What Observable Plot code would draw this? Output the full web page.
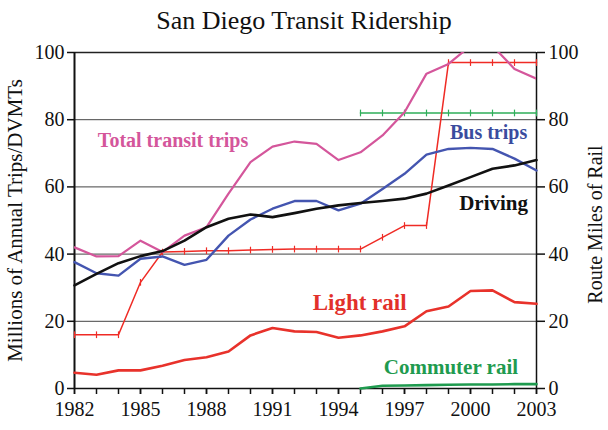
<!DOCTYPE html>
<html>
<head>
<meta charset="utf-8">
<script src="https://cdn.jsdelivr.net/npm/d3@7"></script>
<script src="https://cdn.jsdelivr.net/npm/@observablehq/plot@0.6"></script>
<style>
  body { margin: 0; background: white; }
  #title { width: 608px; height: 40px; line-height: 42px; text-align: center;
           font-family: "Liberation Serif", serif; font-size: 26px; color: #111; }
</style>
</head>
<body>
<div id="title">San Diego Transit Ridership</div>
<div id="chart"></div>
<script>
const years = [1982,1983,1984,1985,1986,1987,1988,1989,1990,1991,1992,1993,1994,1995,1996,1997,1998,1999,2000,2001,2002,2003];
const totalTrips = [42,39.3,39.4,44,40.6,45.5,48,58,67.4,72,73.5,72.8,68,70.3,75.3,82.2,93.7,96.6,102,102,95.1,92.2];
const busTrips = [37.6,34.3,33.6,38.6,39.3,36.8,38.3,45.5,50.3,53.5,55.8,55.8,53,55,59.4,63.9,69.6,71.3,71.6,71.3,68.4,64.9];
const driving = [30.7,34.1,37.3,39.4,40.9,44,48,50.5,51.8,51,52.2,53.5,54.5,55.2,55.8,56.5,58,60.4,62.9,65.4,66.4,68];
const lightRail = [4.7,4.1,5.4,5.4,6.8,8.5,9.3,11,15.8,18,17,16.8,15.1,15.8,17,18.5,23,24.4,29,29.2,25.7,25.2];
const lightRailMiles = [16,16,16,31.6,40.6,40.8,41,41,41.2,41.4,41.5,41.5,41.5,41.5,45,48.5,48.5,97,97,97,97,97];
const commuterYears = [1995,1996,1997,1998,1999,2000,2001,2002,2003];
const commuterRail = [0,0.8,0.9,1.0,1.1,1.2,1.2,1.3,1.3];
const commuterMiles = [82,82,82,82,82,82,82,82,82];
const yTicks = [0,20,40,60,80,100];
const xLabelYears = [1982,1985,1988,1991,1994,1997,2000,2003];
const seriesLabels = ["Total transit trips","Bus trips","Driving","Light rail","Commuter rail"];
const labelYears = [1986.48,2000.82,2001.05,1994.96,1999.11];
const labelValues = [73.8,76.3,55.1,25.7,6.3];

const zip = (xs, vs) => xs.map((x, i) => ({year: x, v: vs[i]}));
const dTotal = zip(years, totalTrips);
const dBus = zip(years, busTrips);
const dDrive = zip(years, driving);
const dLR = zip(years, lightRail);
const dLRM = zip(years, lightRailMiles);
const dCR = zip(commuterYears, commuterRail);
const dCRM = zip(commuterYears, commuterMiles);

const labelColors = ["#d4569b","#3a4c9e","#111111","#e2302a","#1f9b4f"];
const labelSizes = [20,20,21,23,21];
const labels = seriesLabels.map((t, i) => ({t, year: labelYears[i], v: labelValues[i], c: labelColors[i], s: labelSizes[i]}));

const serif = "Liberation Serif, serif";

const chart = Plot.plot({
  width: 608,
  height: 390,
  marginLeft: 74,
  marginRight: 72,
  marginTop: 12,
  marginBottom: 42,
  style: {fontFamily: serif, fontSize: "20px", background: "white", color: "#111"},
  x: {domain: [1982, 2003]},
  y: {domain: [0, 100]},
  marks: [
    Plot.ruleY([20,40,60,80], {stroke: "#444", strokeWidth: 1}),
    Plot.ruleY([100], {stroke: "#222", strokeWidth: 1.5}),
    Plot.ruleY([0], {stroke: "#111", strokeWidth: 1.5}),
    Plot.ruleX([1982], {stroke: "#111", strokeWidth: 2}),
    Plot.ruleX([2003], {stroke: "#111", strokeWidth: 1.5}),
    Plot.axisY({anchor: "left", ticks: yTicks, tickSize: 7, tickPadding: 3, label: null, strokeWidth: 1.5}),
    Plot.axisY({anchor: "right", ticks: yTicks, tickSize: 8, tickPadding: 4, label: null, strokeWidth: 1.5}),
    Plot.axisX({ticks: years, tickSize: 6, tickFormat: () => "", label: null, strokeWidth: 1.5}),
    Plot.axisX({ticks: xLabelYears, tickSize: 6, tickPadding: 7, tickFormat: d => String(d), label: null, strokeWidth: 1.5}),
    // route miles (thin lines with tick marks)
    Plot.line(dCRM, {x: "year", y: "v", stroke: "#2fae5a", strokeWidth: 1.6}),
    Plot.link(dCRM, {x1: "year", x2: "year", y1: d => d.v - 1, y2: d => d.v + 1, stroke: "#2fae5a", strokeWidth: 1.2}),
    Plot.line(dLRM, {x: "year", y: "v", stroke: "#ef2b25", strokeWidth: 1.5}),
    Plot.link(dLRM, {x1: "year", x2: "year", y1: d => d.v - 1, y2: d => d.v + 1, stroke: "#ef2b25", strokeWidth: 1.2}),
    // ridership
    Plot.line(dTotal, {x: "year", y: "v", stroke: "#d4569b", strokeWidth: 2.2, clip: true}),
    Plot.line(dBus, {x: "year", y: "v", stroke: "#4455b0", strokeWidth: 2.4}),
    Plot.line(dDrive, {x: "year", y: "v", stroke: "#111", strokeWidth: 2.6}),
    Plot.line(dLR, {x: "year", y: "v", stroke: "#e8322b", strokeWidth: 2.6}),
    Plot.line(dCR, {x: "year", y: "v", stroke: "#1f9b4f", strokeWidth: 2.6}),
    // series labels
    Plot.text(labels, {x: "year", y: "v", text: "t", fill: "c", fontSize: d => d.s, fontWeight: "bold", fontFamily: serif}),
    // axis titles
    Plot.text(["Millions of Annual Trips/DVMTs"], {frameAnchor: "left", textAnchor: "middle", text: d => d, rotate: -90, dx: -59, fontSize: 21, fontFamily: serif, fill: "#111"}),
    Plot.text(["Route Miles of Rail"], {frameAnchor: "right", textAnchor: "middle", text: d => d, rotate: -90, dx: 59, dy: 4, fontSize: 20, fontFamily: serif, fill: "#111"})
  ]
});
document.getElementById("chart").appendChild(chart);
</script>
</body>
</html>
